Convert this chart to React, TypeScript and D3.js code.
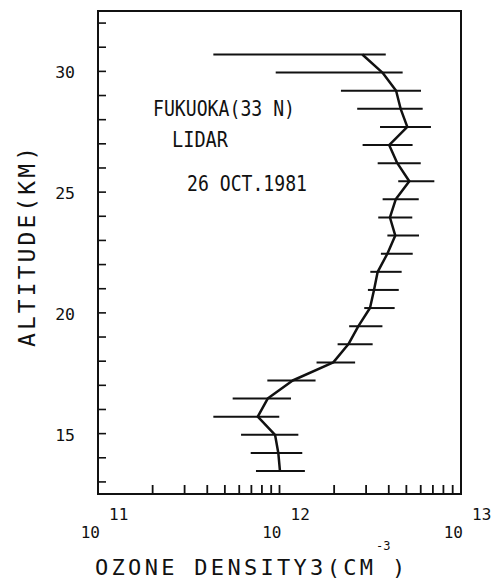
import React from "react";
import * as d3 from "d3";

// Altitude (km) of each lidar level, bottom to top
const altitudes = [
  13.45, 14.2, 14.95, 15.7, 16.45, 17.2, 17.95, 18.7, 19.45, 20.2, 20.95, 21.7,
  22.45, 23.2, 23.95, 24.7, 25.45, 26.2, 26.95, 27.7, 28.45, 29.2, 29.95, 30.7,
];
// Ozone number density (cm^-3)
const density = [
  1.006e12, 9.85e11, 9.45e11, 7.59e11, 8.61e11, 1.182e12, 1.979e12, 2.394e12,
  2.72e12, 3.152e12, 3.317e12, 3.475e12, 3.93e12, 4.345e12, 4.06e12, 4.37e12,
  5.19e12, 4.457e12, 4.02e12, 5.06e12, 4.65e12, 4.39e12, 3.69e12, 2.86e12,
];
const errLow = [
  7.42e11, 6.94e11, 6.14e11, 4.32e11, 5.52e11, 8.57e11, 1.6e12, 2.09e12,
  2.42e12, 2.93e12, 3.07e12, 3.165e12, 3.62e12, 3.93e12, 3.5e12, 3.7e12,
  4.51e12, 3.475e12, 2.87e12, 3.58e12, 2.68e12, 2.18e12, 9.53e11, 4.32e11,
];
const errHigh = [
  1.38e12, 1.335e12, 1.27e12, 9.97e11, 1.157e12, 1.58e12, 2.61e12, 3.26e12,
  3.69e12, 4.31e12, 4.54e12, 4.71e12, 5.42e12, 5.87e12, 5.39e12, 5.85e12,
  7.13e12, 6.0e12, 5.41e12, 6.83e12, 6.15e12, 6.02e12, 4.77e12, 3.85e12,
];

const xDomain = [1e11, 1e13];
const yDomain = [12.5, 32.5];
const yTicks = d3.range(13, 33, 1);
const yLabels = [15, 20, 25, 30];
const xDecades = [11, 12, 13];
const xMinorTicks = [2, 3, 4, 5, 6, 7, 8, 9, 10, 20, 30, 40, 50, 60, 70, 80, 90].map((m) => m * 1e11);

const annotations = [
  { text: "FUKUOKA(33 N)", x: 153, y: 115.5, len: 142 },
  { text: "LIDAR", x: 172, y: 146.5, len: 56 },
  { text: "26 OCT.1981", x: 187, y: 191, len: 120 },
];

const W = 503;
const H = 579;
const left = 98;
const right = 461;
const top = 11;
const bottom = 494;
const ink = "#111";
const font = "'DejaVu Sans Mono', monospace";

export default function App() {
  const x = d3.scaleLog().domain(xDomain).range([left, right]);
  const y = d3.scaleLinear().domain(yDomain).range([bottom, top]);
  const pts = altitudes.map((a, i) => [x(density[i]), y(a)] as [number, number]);
  const line = d3.line()(pts) || "";

  return (
    <svg
      width={W}
      height={H}
      style={{ position: "absolute", left: 0, top: 0, background: "#fff" }}
    >
      <rect x={0} y={0} width={W} height={H} fill="#fff" />
      {/* frame */}
      <rect
        x={left}
        y={top}
        width={right - left}
        height={bottom - top}
        fill="none"
        stroke={ink}
        strokeWidth={2}
      />
      {/* y ticks */}
      {yTicks.map((t) => (
        <line key={"yt" + t} x1={left} x2={left + 8} y1={y(t)} y2={y(t)} stroke={ink} strokeWidth={1.6} />
      ))}
      {yLabels.map((t) => (
        <text
          key={"yl" + t}
          x={75}
          y={y(t) + 7}
          textAnchor="end"
          fontFamily={font}
          fontSize={16.5}
          fill={ink}
        >
          {t}
        </text>
      ))}
      {/* x ticks */}
      {xMinorTicks.map((t) => (
        <line key={"xt" + t} x1={x(t)} x2={x(t)} y1={bottom} y2={bottom - 9} stroke={ink} strokeWidth={1.8} />
      ))}
      {xDecades.map((d) => {
        const px = x(Math.pow(10, d));
        return (
          <g key={"xd" + d} fontFamily={font} fill={ink}>
            <text x={px + 2} y={538} textAnchor="end" fontSize={16}>
              10
            </text>
            <text x={px + 11} y={520} fontSize={16}>
              {d}
            </text>
          </g>
        );
      })}
      {/* axis titles */}
      <text x={95} y={575} fontFamily={font} fontSize={22} fill={ink} textLength={278} lengthAdjust="spacing">
        OZONE DENSITY3(CM
      </text>
      <text x={376} y={550} fontFamily={font} fontSize={12} fill={ink}>
        -3
      </text>
      <text x={392} y={575} fontFamily={font} fontSize={22} fill={ink}>
        )
      </text>
      <text
        transform="translate(35,247) rotate(-90)"
        textAnchor="middle"
        fontFamily={font}
        fontSize={23}
        fill={ink}
        textLength={200}
        lengthAdjust="spacing"
      >
        ALTITUDE(KM)
      </text>
      {/* annotations */}
      {annotations.map((a) => (
        <text
          key={a.text}
          x={a.x}
          y={a.y}
          fontFamily={font}
          fontSize={20.5}
          fill={ink}
          textLength={a.len}
          lengthAdjust="spacingAndGlyphs"
        >
          {a.text}
        </text>
      ))}
      {/* error bars */}
      {altitudes.map((a, i) => (
        <line
          key={"eb" + i}
          x1={x(errLow[i])}
          x2={x(errHigh[i])}
          y1={y(a)}
          y2={y(a)}
          stroke={ink}
          strokeWidth={2}
        />
      ))}
      {/* profile */}
      <path d={line} fill="none" stroke={ink} strokeWidth={2.5} strokeLinejoin="round" />
    </svg>
  );
}
